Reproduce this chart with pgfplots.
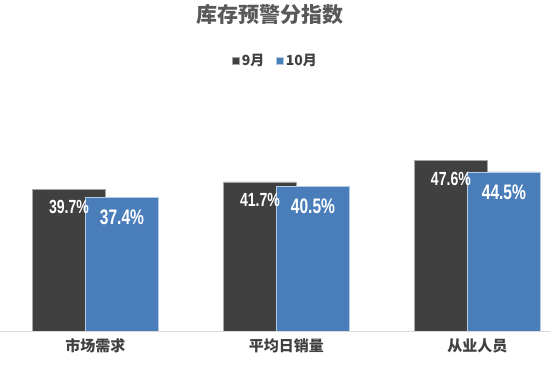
\documentclass[border=0pt]{standalone}
\usepackage{pgfplots}
\pgfplotsset{compat=1.18}
\usepackage{fontspec}
\setmainfont{Liberation Sans}
\newfontfamily\cjk{Noto Sans CJK SC}
\newfontfamily\narrow[FakeStretch=0.74]{Liberation Sans}
\definecolor{darkbar}{HTML}{404040}
\definecolor{bluebar}{HTML}{4A7EBB}
\definecolor{txt}{HTML}{595959}
\definecolor{axisgray}{HTML}{D9D9D9}
\begin{document}
\begin{tikzpicture}[x=1pt,y=1pt]
\path[use as bounding box] (0,0) rectangle (550,378);
\begin{axis}[
  at={(0pt,47pt)}, anchor=south west,
  scale only axis, width=550pt, height=214.6pt,
  xmin=-0.5, xmax=2.380, ymin=0, ymax=60,
  axis y line=none, axis x line*=bottom,
  x axis line style={draw=axisgray, line width=0.8pt},
  xtick={0,1,2},
  xticklabels={市场需求,平均日销量,从业人员},
  xtick style={draw=none},
  extra x ticks={-0.49,0.5,1.5},
  extra x tick labels={},
  extra x tick style={tick align=outside, major tick length=5pt, tick style={draw=axisgray, line width=0.8pt}},
  xticklabel style={font=\cjk\bfseries\fontsize{15}{15}\selectfont, text=darkbar, yshift=-4pt},
  ytick=\empty,
  /pgf/number format/assume math mode=true,
  title={\cjk\bfseries 库存预警分指数},
  title style={at={(0.491,1.449)}, anchor=center, font=\fontsize{21}{21}\selectfont, text=txt},
  legend style={at={(0.501,1.258)}, anchor=center, draw=none, fill=none, legend columns=2,
    font=\cjk\bfseries\fontsize{14}{14}\selectfont, text=darkbar,
    /tikz/every even column/.append style={column sep=10pt}},
  legend image code/.code={\fill[#1] (0pt,-3.5pt) rectangle (7pt,3.5pt);},
  bar width=73pt,
  nodes near coords={\pgfmathprintnumber[fixed,fixed zerofill,precision=1]{\pgfplotspointmeta}\%},
]
\addplot[ybar, bar shift=-26.5pt, fill=darkbar, draw=gray!70, line width=0.5pt,
  nodes near coords style={anchor=north, inner sep=0pt, xshift=-26.5pt, yshift=-11pt, text=white, font=\narrow\bfseries\fontsize{19}{19}\selectfont}]
  coordinates {(0,39.7) (1,41.7) (2,47.6)};
\addlegendentry{9月}
\addplot[ybar, bar shift=26.5pt, fill=bluebar, draw=white!60!bluebar, line width=0.5pt,
  nodes near coords style={anchor=north, inner sep=0pt, xshift=26.5pt, yshift=-12.5pt, text=white, font=\narrow\bfseries\fontsize{21}{21}\selectfont}]
  coordinates {(0,37.4) (1,40.5) (2,44.5)};
\addlegendentry{10月}
\end{axis}
\end{tikzpicture}
\end{document}
